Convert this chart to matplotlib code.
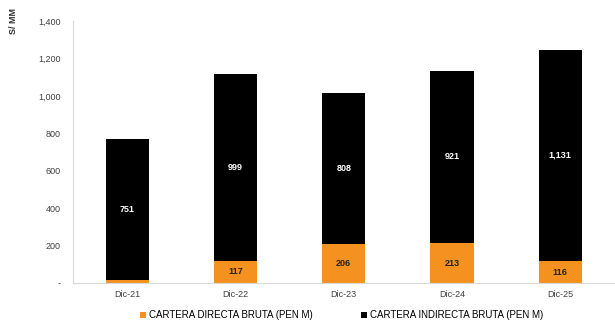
import numpy as np
import matplotlib.pyplot as plt

periods = ["Dic-21", "Dic-22", "Dic-23", "Dic-24", "Dic-25"]
directa = [16, 117, 206, 213, 116]
indirecta = [751, 999, 808, 921, 1131]
directa_labels = ["", "117", "206", "213", "116"]
indirecta_labels = ["751", "999", "808", "921", "1,131"]

orange = "#F5911E"
plt.rcParams['font.family'] = ['Liberation Sans', 'DejaVu Sans']

fig = plt.figure(figsize=(6.15, 3.29), dpi=100)
ax = fig.add_axes([0.119, 0.14, 0.88, 0.796])

x = np.arange(len(periods))
w = 0.4
b1 = ax.bar(x, directa, w, color=orange, label="CARTERA DIRECTA BRUTA (PEN M)")
b2 = ax.bar(x, indirecta, w, bottom=directa, color="black",
            label="CARTERA INDIRECTA BRUTA (PEN M)")

for i in range(len(periods)):
    if directa_labels[i]:
        ax.text(x[i], directa[i] / 2, directa_labels[i], ha="center", va="center",
                fontsize=6.5, fontweight="bold", color="#222222")
    ax.text(x[i], directa[i] + indirecta[i] / 2, indirecta_labels[i], ha="center",
            va="center", fontsize=6.5, fontweight="bold", color="white")

ax.set_xlim(-0.5, 4.5)
ax.set_ylim(0, 1400)
ax.set_yticks(np.arange(0, 1401, 200))
ax.set_yticklabels(["-", "200", "400", "600", "800", "1,000", "1,200", "1,400"])
ax.set_xticks(x)
ax.set_xticklabels(periods)
ax.tick_params(axis="both", labelsize=6.5, colors="#404040", length=0, pad=9)
ax.tick_params(axis="x", pad=5)
for s in ["top", "right"]:
    ax.spines[s].set_visible(False)
ax.spines["left"].set_color("#D9D9D9")
ax.spines["bottom"].set_color("#D9D9D9")

fig.text(0.022, 0.975, "S/ MM", rotation=90, ha="center", va="top",
         fontsize=6.5, fontweight="bold", color="#333333")

fig.legend(handles=[b1, b2], loc="lower center", bbox_to_anchor=(0.555, 0.0),
           ncol=2, frameon=False, fontsize=7, handlelength=0.6, handleheight=0.6,
           columnspacing=5.0, handletextpad=0.3)

fig.savefig("out.png", dpi=100)
